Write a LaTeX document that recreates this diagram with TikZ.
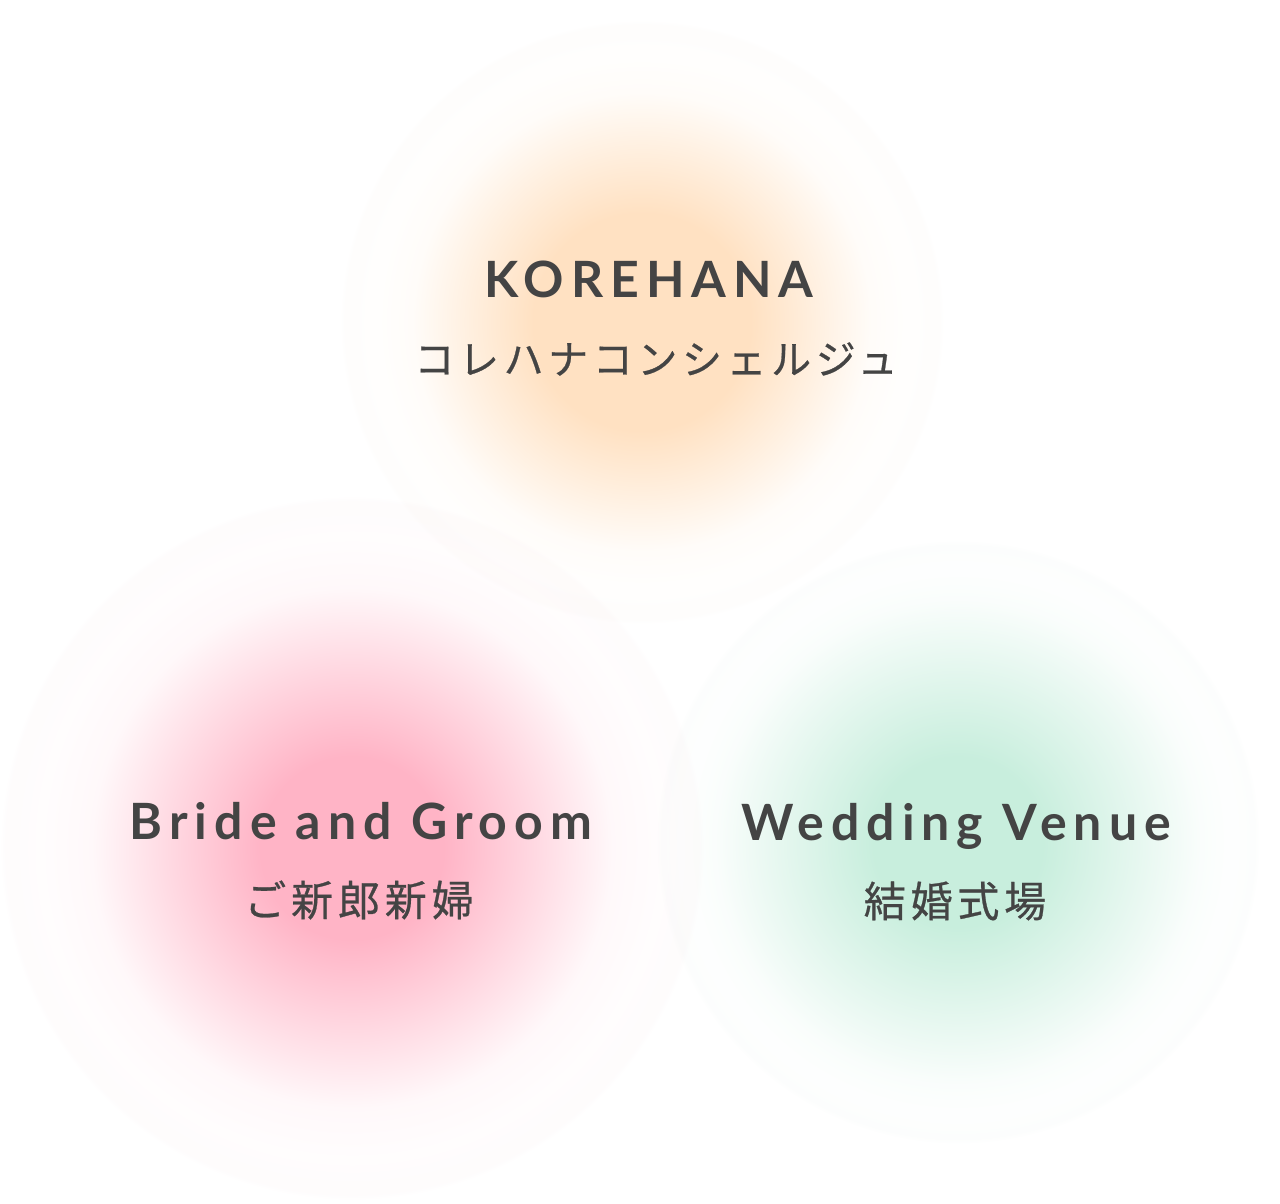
\documentclass[tikz,border=0pt]{standalone}
\usepackage{fontspec}
\setmainfont{Lato}
\newfontfamily\latinbold[LetterSpace=14]{Lato Bold}
\newfontfamily\jpfont[LetterSpace=11.5,FakeBold=0.6]{Noto Sans CJK JP}
\definecolor{textgray}{HTML}{444444}
\definecolor{orcore}{HTML}{FFE1C2}
\definecolor{pkcore}{HTML}{FFB4C6}
\definecolor{grcore}{HTML}{C8EEDD}
\colorlet{ormid}{orcore!10!white}
\colorlet{pkmid}{pkcore!9!white}
\colorlet{grmid}{grcore!10!white}
\colorlet{orout}{orcore!3!white}
\colorlet{pkout}{pkcore!3!white}
\colorlet{grout}{grcore!3!white}
\colorlet{orring}{orcore!3!white!99.5!black}
\colorlet{pkring}{pkcore!3!white!99.5!black}
\colorlet{grring}{grcore!3!white!99.5!black}
\pgfdeclareradialshading{orglow}{\pgfpoint{0bp}{0bp}}{color(0bp)=(orcore); color(9bp)=(orcore); color(19bp)=(ormid); color(22bp)=(orout); color(24.6bp)=(orring); color(25bp)=(white); color(50bp)=(white)}
\pgfdeclareradialshading{pkglow}{\pgfpoint{0bp}{0bp}}{color(0bp)=(pkcore); color(6.5bp)=(pkcore); color(18.5bp)=(pkmid); color(22bp)=(pkout); color(24.6bp)=(pkring); color(25bp)=(white); color(50bp)=(white)}
\pgfdeclareradialshading{grglow}{\pgfpoint{0bp}{0bp}}{color(0bp)=(grcore); color(7bp)=(grcore); color(20bp)=(grmid); color(22.5bp)=(grout); color(24.6bp)=(grring); color(25bp)=(white); color(50bp)=(white)}
\tikzset{
  entitle/.style={font=\latinbold\fontsize{50}{60}\selectfont, text=textgray, inner sep=0pt, anchor=base},
  katatitle/.style={font=\jpfont\fontsize{40}{48}\selectfont, text=textgray, inner sep=0pt, anchor=center},
  kanjititle/.style={font=\jpfont\fontsize{42}{50}\selectfont, text=textgray, inner sep=0pt, anchor=center},
}
\begin{document}
\begin{tikzpicture}[x=1pt,y=-1pt]
\useasboundingbox (0,0) rectangle (1280,1204);
\fill[white] (0,0) rectangle (1280,1204);
\begin{scope}[blend mode=multiply]
\shade[shading=orglow] (642,322) circle (302);
\shade[shading=pkglow] (352,848) circle (352);
\shade[shading=grglow] (958,842) circle (302);
\end{scope}
\node[entitle] (kore) at (649,297) {KOREHANA};
\node[katatitle] (korejp) at (656,359) {コレハナコンシェルジュ};
\node[entitle] (bride) at (361,839) {Bride and Groom};
\node[kanjititle] (bridejp) at (359,900) {ご新郎新婦};
\node[entitle] (venue) at (956,840) {Wedding Venue};
\node[kanjititle] (venuejp) at (955,901) {結婚式場};
\end{tikzpicture}
\end{document}
